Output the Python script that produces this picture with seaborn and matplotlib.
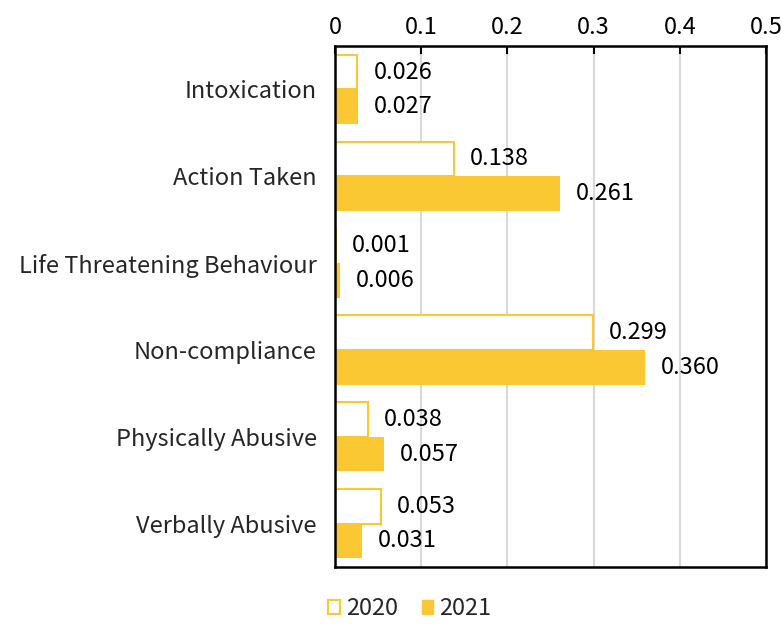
import matplotlib
matplotlib.use("Agg")
import matplotlib.pyplot as plt
import seaborn as sns
import pandas as pd
from matplotlib.patches import Patch

categories = ["Intoxication", "Action Taken", "Life Threatening Behaviour",
              "Non-compliance", "Physically Abusive", "Verbally Abusive"]
values_2020 = [0.026, 0.138, 0.001, 0.299, 0.038, 0.053]
values_2021 = [0.027, 0.261, 0.006, 0.360, 0.057, 0.031]
years = ["2020", "2021"]
xticks = [0, 0.1, 0.2, 0.3, 0.4, 0.5]

sns.set_theme(style="white")
plt.rcParams['font.family'] = ['Noto Sans CJK KR', 'DejaVu Sans']

df = pd.DataFrame({
    "category": categories * 2,
    "value": values_2020 + values_2021,
    "year": [years[0]] * len(categories) + [years[1]] * len(categories),
})

FS = 17
yellow = "#F9C832"
fig = plt.figure(figsize=(7.82, 6.27), dpi=100)
ax = fig.add_axes([335/782, 1 - 567/627, (766-335)/782, (567-46)/627])

sns.barplot(data=df, y="category", x="value", hue="year", orient="h",
            palette=[yellow, yellow], width=0.8, ax=ax, legend=False,
            saturation=1)

c2020, c2021 = ax.containers[0], ax.containers[1]
for p in c2020:
    p.set_facecolor("white")
    p.set_edgecolor(yellow)
    p.set_linewidth(1.5)
for p in c2021:
    p.set_edgecolor(yellow)
    p.set_linewidth(0)

ax.bar_label(c2020, fmt="%.3f", padding=11.5, fontsize=FS, color="black")
ax.bar_label(c2021, fmt="%.3f", padding=11.5, fontsize=FS, color="black")

ax.set_xlim(0, 0.5)
ax.set_xticks(xticks)
ax.set_xticklabels(["0", "0.1", "0.2", "0.3", "0.4", "0.5"])
ax.xaxis.tick_top()
ax.tick_params(axis="x", direction="in", length=6, width=1.5, colors="black",
               labelsize=FS, pad=5, top=True, bottom=False)
ax.tick_params(axis="y", length=0, labelsize=FS, pad=13)
ax.set_xlabel("")
ax.set_ylabel("")
ax.grid(axis="x", color="#D9D9D9", linewidth=1.5)
ax.set_axisbelow(True)
for s in ax.spines.values():
    s.set_visible(True)
    s.set_color("black")
    s.set_linewidth(1.8)

handles = [Patch(facecolor="white", edgecolor=yellow, linewidth=1.5, label="2020"),
           Patch(facecolor=yellow, edgecolor=yellow, label="2021")]
fig.legend(handles=handles, loc="lower center", bbox_to_anchor=(0.524, -0.012),
           ncol=2, frameon=False, fontsize=FS, handlelength=0.5, handleheight=0.5,
           handletextpad=0.25, columnspacing=1.0, borderaxespad=0.2)

fig.savefig("out.png", dpi=100)
